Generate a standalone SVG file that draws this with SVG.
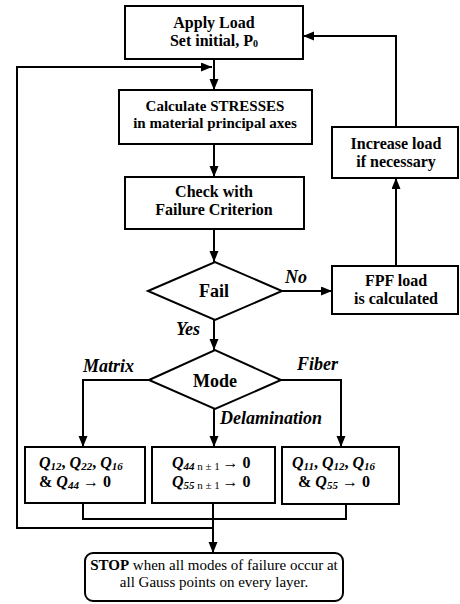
<svg xmlns="http://www.w3.org/2000/svg" width="460" height="604" viewBox="0 0 460 604">
<defs>
<marker id="ah" markerUnits="userSpaceOnUse" markerWidth="12" markerHeight="10" refX="11" refY="4.5" orient="auto">
<path d="M0,0 L11,4.5 L0,9 z" fill="#000"/>
</marker>
<style>
.box{fill:#fff;stroke:#000;stroke-width:2}
.ln{fill:none;stroke:#000;stroke-width:2}
.t{font-family:"Liberation Serif","Times New Roman",serif;font-weight:bold;fill:#000;text-anchor:middle}
.lbl{font-family:"Liberation Serif","Times New Roman",serif;font-weight:bold;font-style:italic;font-size:18px;fill:#000}
.q{font-family:"Liberation Serif","Times New Roman",serif;font-weight:bold;font-size:16px;fill:#000}
.qi{font-style:italic}
.sub{font-style:italic;font-size:11px}
.stop{font-family:"Liberation Serif","Times New Roman",serif;font-size:15px;fill:#000;text-anchor:middle}
</style>
</defs>
<rect width="460" height="604" fill="#fff"/>
<g id="connectors">
<path class="ln" d="M214,59 V90" marker-end="url(#ah)"/>
<path class="ln" d="M214,528 H17 V67 H212" marker-end="url(#ah)"/>
<path class="ln" d="M214,144 V177" marker-end="url(#ah)"/>
<path class="ln" d="M214,229 V262" marker-end="url(#ah)"/>
<path class="ln" d="M282,291 H332" marker-end="url(#ah)"/>
<path class="ln" d="M396,266 V178" marker-end="url(#ah)"/>
<path class="ln" d="M396,127 V36 H303" marker-end="url(#ah)"/>
<path class="ln" d="M214,320 V350" marker-end="url(#ah)"/>
<path class="ln" d="M149,380 H83 V447" marker-end="url(#ah)"/>
<path class="ln" d="M214,409 V447" marker-end="url(#ah)"/>
<path class="ln" d="M281,380 H341 V447" marker-end="url(#ah)"/>
<path class="ln" d="M83,503 V519 H346 V504"/>
<path class="ln" d="M213,503 V553" marker-end="url(#ah)"/>
<text class="lbl" x="285" y="283">No</text>
<text class="lbl" x="200" y="335" text-anchor="end">Yes</text>
<text class="lbl" x="83" y="372">Matrix</text>
<text class="lbl" x="297" y="370">Fiber</text>
<text class="lbl" x="220" y="424">Delamination</text>
</g>
<g id="apply">
<rect class="box" x="125" y="6" width="178" height="53"/>
<text class="t" x="214" y="28" font-size="16">Apply Load</text>
<text class="t" x="214" y="46" font-size="16">Set initial, P<tspan font-size="10" dy="1">0</tspan></text>
</g>
<g id="calc">
<rect class="box" x="119" y="90" width="193" height="54"/>
<text class="t" x="215" y="111" font-size="15">Calculate STRESSES</text>
<text class="t" x="215" y="128" font-size="15">in material principal axes</text>
</g>
<g id="check">
<rect class="box" x="125" y="177" width="179" height="52"/>
<text class="t" x="214" y="197" font-size="16">Check with</text>
<text class="t" x="214" y="215" font-size="16">Failure Criterion</text>
</g>
<g id="increase">
<rect class="box" x="332" y="127" width="126" height="51"/>
<text class="t" x="396" y="149" font-size="16">Increase load</text>
<text class="t" x="396" y="167" font-size="16">if necessary</text>
</g>
<g id="fpf">
<rect class="box" x="332" y="266" width="126" height="48"/>
<text class="t" x="396" y="286" font-size="16">FPF load</text>
<text class="t" x="396" y="304" font-size="16">is calculated</text>
</g>
<g id="fail">
<path class="box" d="M148,291 L215,262 L282,291 L215,320 z"/>
<text class="t" x="214" y="297" font-size="18">Fail</text>
</g>
<g id="mode">
<path class="box" d="M149,380 L215,350 L281,380 L215,409 z"/>
<text class="t" x="215" y="387" font-size="18">Mode</text>
</g>
<g id="matrix-box">
<rect class="box" x="25" y="447" width="120" height="56"/>
<text class="q" x="39" y="468"><tspan class="qi">Q</tspan><tspan class="sub" dy="2">12</tspan><tspan dy="-2">, </tspan><tspan class="qi">Q</tspan><tspan class="sub" dy="2">22</tspan><tspan dy="-2">, </tspan><tspan class="qi">Q</tspan><tspan class="sub" dy="2">16</tspan></text>
<text class="q" x="39" y="487">&amp; <tspan class="qi">Q</tspan><tspan class="sub" dy="2">44</tspan><tspan dy="-2"> → 0</tspan></text>
</g>
<g id="delam-box">
<rect class="box" x="152" y="447" width="123" height="56"/>
<text class="q" x="172" y="468"><tspan class="qi">Q</tspan><tspan class="sub" dy="2">44</tspan><tspan font-size="11" font-weight="normal"> n ± 1 </tspan><tspan dy="-2">→ 0</tspan></text>
<text class="q" x="172" y="487"><tspan class="qi">Q</tspan><tspan class="sub" dy="2">55</tspan><tspan font-size="11" font-weight="normal"> n ± 1 </tspan><tspan dy="-2">→ 0</tspan></text>
</g>
<g id="fiber-box">
<rect class="box" x="282" y="447" width="117" height="57"/>
<text class="q" x="292" y="468"><tspan class="qi">Q</tspan><tspan class="sub" dy="2">11</tspan><tspan dy="-2">, </tspan><tspan class="qi">Q</tspan><tspan class="sub" dy="2">12</tspan><tspan dy="-2">, </tspan><tspan class="qi">Q</tspan><tspan class="sub" dy="2">16</tspan></text>
<text class="q" x="298" y="487">&amp; <tspan class="qi">Q</tspan><tspan class="sub" dy="2">55</tspan><tspan dy="-2"> → 0</tspan></text>
</g>
<g id="stop">
<rect class="box" x="85" y="553" width="258" height="48" rx="8"/>
<text class="stop" x="214" y="570"><tspan font-weight="bold">STOP</tspan> when all modes of failure occur at</text>
<text class="stop" x="214" y="587">all Gauss points on every layer.</text>
</g>
</svg>
